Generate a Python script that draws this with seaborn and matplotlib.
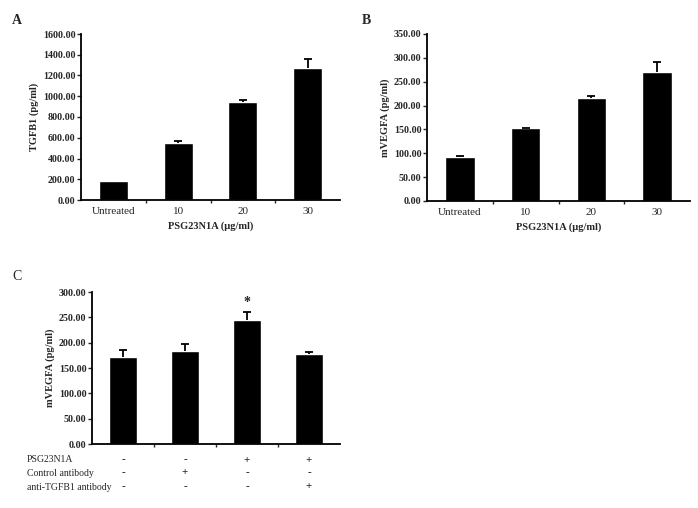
import matplotlib
matplotlib.use("Agg")
import matplotlib.pyplot as plt
import seaborn as sns
import numpy as np
from matplotlib.ticker import FormatStrFormatter, FixedLocator

# ---- data ----
cats_ab = ["Untreated", "10", "20", "30"]
tgfb1_vals = [180, 545, 940, 1275]
tgfb1_err = [0, 20, 25, 85]
vegf_b_vals = [93, 152, 215, 270]
vegf_b_err = [2, 1, 5, 22]
cats_c = ["c1", "c2", "c3", "c4"]
vegf_c_vals = [171, 184, 245, 177]
vegf_c_err = [14, 13, 15, 4]
row_labels = ["PSG23N1A", "Control antibody", "anti-TGFB1 antibody"]
row_signs = [["-", "-", "+", "+"],
             ["-", "+", "-", "-"],
             ["-", "-", "-", "+"]]

sns.set_style("white")
plt.rcParams['font.family'] = ['Liberation Serif', 'DejaVu Serif']

W, H = 698, 508
fig = plt.figure(figsize=(W / 100, H / 100), dpi=100)

def px_axes(l, t, r, b):
    return fig.add_axes([l / W, 1 - b / H, (r - l) / W, (b - t) / H])

def style(ax, ymax, step, ylabel):
    ax.set_ylim(0, ymax)
    ax.set_xlim(-0.5, 3.5)
    ax.yaxis.set_major_locator(FixedLocator(np.arange(0, ymax + 1e-6, step)))
    ax.yaxis.set_major_formatter(FormatStrFormatter("%.2f"))
    for s in ["top", "right"]:
        ax.spines[s].set_visible(False)
    for s in ["left", "bottom"]:
        ax.spines[s].set_color("black")
        ax.spines[s].set_linewidth(1.3)
    ax.tick_params(axis="y", which="both", direction="out", length=3, width=1,
                   labelsize=7.2, left=True, pad=1)
    ax.tick_params(axis="x", which="major", length=0, labelsize=8, pad=5)
    ax.xaxis.set_minor_locator(FixedLocator([0.5, 1.5, 2.5]))
    ax.tick_params(axis="x", which="minor", direction="out", length=2.5, width=1, bottom=True)
    ax.set_ylabel(ylabel, fontsize=7.5, fontweight="bold", labelpad=3)
    for lab in ax.get_yticklabels():
        lab.set_fontweight("bold")
    ax.set_facecolor("white")

def bars(ax, cats, vals, errs):
    sns.barplot(x=cats, y=vals, color="black", width=0.45, ax=ax, saturation=1)
    vals = np.asarray(vals, float)
    errs = np.asarray(errs, float)
    idx = np.nonzero(errs > 0)[0]
    eb = ax.errorbar(idx, vals[idx], yerr=[np.zeros(len(idx)), errs[idx]],
                     fmt="none", ecolor="black", elinewidth=1.3, capsize=3, capthick=1.3)
    caps = eb[1]
    if len(caps) >= 1:
        caps[0].set_visible(False)  # hide lower caps

# Panel A
axA = px_axes(81, 34, 340, 200)
bars(axA, cats_ab, tgfb1_vals, tgfb1_err)
style(axA, 1600, 200, "TGFB1 (pg/ml)")
axA.set_xlabel("PSG23N1A (\u03bcg/ml)", fontsize=7.5, fontweight="bold", labelpad=4)
fig.text(12 / W, 1 - 20 / H, "A", fontsize=10, fontweight="bold", va="center")

# Panel B
axB = px_axes(427, 34, 690, 201)
bars(axB, cats_ab, vegf_b_vals, vegf_b_err)
style(axB, 350, 50, "mVEGFA (pg/ml)")
axB.set_xlabel("PSG23N1A (\u03bcg/ml)", fontsize=7.5, fontweight="bold", labelpad=4)
fig.text(362 / W, 1 - 20 / H, "B", fontsize=10, fontweight="bold", va="center")

# Panel C
axC = px_axes(92, 292, 340, 444)
bars(axC, cats_c, vegf_c_vals, vegf_c_err)
style(axC, 300, 50, "mVEGFA (pg/ml)")
axC.set_xticklabels([])
axC.set_xlabel("")
axC.text(2, vegf_c_vals[2] + vegf_c_err[2] + 20, "*", ha="center", va="center",
         fontsize=10, fontweight="bold")
fig.text(12 / W, 1 - 277 / H, "C", fontsize=10, va="center")

row_y = [460, 473, 487]
for lab, signs, yp in zip(row_labels, row_signs, row_y):
    fig.text(27 / W, 1 - yp / H, lab, fontsize=7, va="center", ha="left")
    for i, s in enumerate(signs):
        xd = axC.transData.transform((i, 0))[0]
        fig.text(xd / W, 1 - yp / H, s, fontsize=8, va="center", ha="center",
                 fontweight="bold")

fig.savefig("out.png", dpi=100, facecolor="white")
